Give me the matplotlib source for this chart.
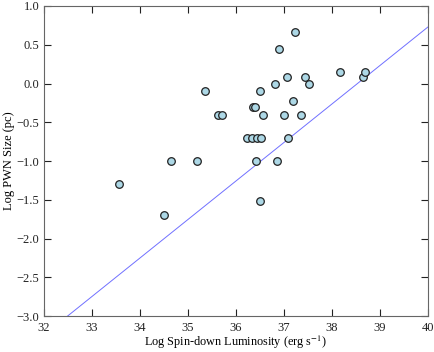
import matplotlib
matplotlib.use("Agg")
import matplotlib.pyplot as plt

log_edot = [33.58, 34.50, 34.65, 35.20, 35.36, 35.63, 35.71, 36.24, 36.33, 36.36,
            36.40, 36.42, 36.45, 36.50, 36.50, 36.53, 36.57, 36.81, 36.85, 36.90,
            37.00, 37.06, 37.08, 37.20, 37.24, 37.35, 37.43, 37.53, 38.16, 38.65, 38.69]
log_size = [-1.30, -1.70, -1.00, -1.00, -0.10, -0.40, -0.40, -0.70, -0.70, -0.30,
            -0.30, -1.00, -0.70, -1.52, -0.10, -0.70, -0.40, 0.00, -1.00, 0.45,
            -0.40, 0.08, -0.70, -0.22, 0.66, -0.40, 0.08, 0.00, 0.15, 0.08, 0.15]
fit_x = [32.5, 40.0]
fit_y = [-3.0, 0.73]

plt.rcParams['font.family'] = ['Liberation Serif', 'DejaVu Serif']
plt.rcParams['mathtext.fontset'] = 'stix'

fig = plt.figure(figsize=(4.35, 3.52), dpi=100)
ax = fig.add_axes([0.100, 0.102, 0.884, 0.881])

ax.plot(fit_x, fit_y, color='#7070ff', lw=0.7, zorder=1)
ax.scatter(log_edot, log_size, s=30, facecolor='#add8e6', edgecolor='#222222',
           linewidths=0.9, zorder=2)

ax.set_xlim(32, 40)
ax.set_ylim(-3.0, 1.0)
ax.set_xticks(range(32, 41))
ax.set_yticks([1.0, 0.5, 0.0, -0.5, -1.0, -1.5, -2.0, -2.5, -3.0])
ax.set_yticklabels(['1.0', '0.5', '0.0', '\u22120.5', '\u22121.0', '\u22121.5',
                    '\u22122.0', '\u22122.5', '\u22123.0'])
ax.tick_params(direction='in', length=5, width=0.8, top=True, right=True,
               labelsize=9, colors='#222222', pad=3)
ax.tick_params(axis='x', pad=4)
for sp in ax.spines.values():
    sp.set_color('#666666')
    sp.set_linewidth(0.8)

ax.set_xlabel('Log Spin-down Luminosity (erg s$^{-1}$)', fontsize=8.8, labelpad=0)
ax.set_ylabel('Log PWN Size (pc)', fontsize=9, labelpad=1)

fig.savefig('out.png', dpi=100)
